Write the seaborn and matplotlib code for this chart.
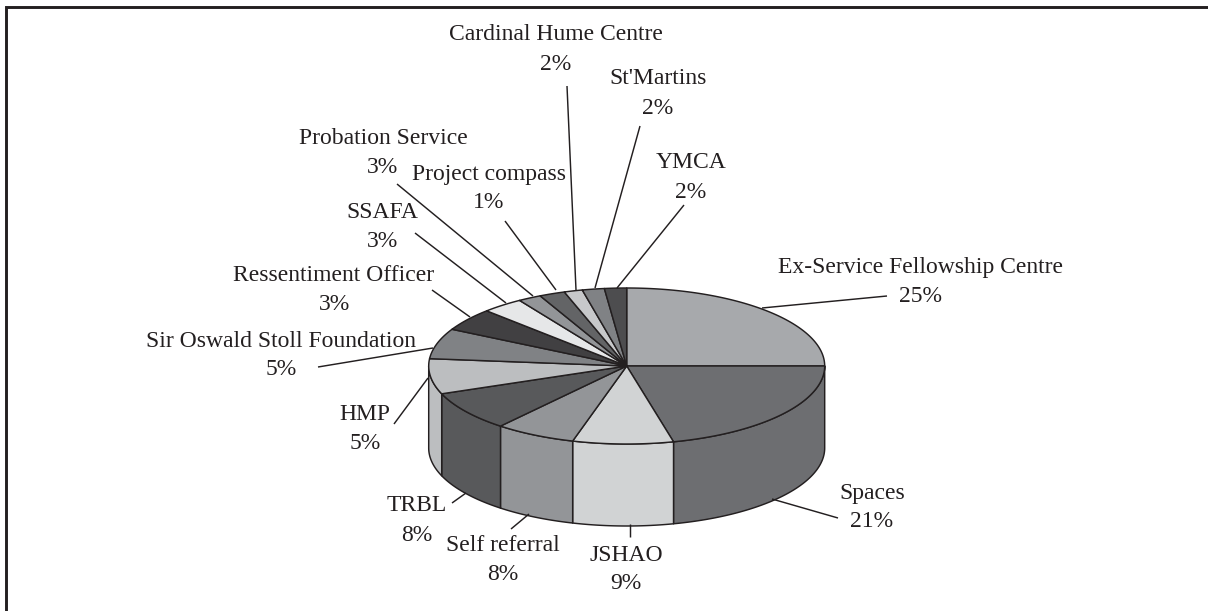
import numpy as np
import matplotlib
matplotlib.use("Agg")
import matplotlib.pyplot as plt
import seaborn as sns

categories = ["Ex-Service Fellowship Centre", "Spaces", "JSHAO", "Self referral", "TRBL", "HMP",
              "Sir Oswald Stoll Foundation", "Ressentiment Officer", "SSAFA", "Probation Service",
              "Project compass", "Cardinal Hume Centre", "St'Martins", "YMCA"]
# slice sizes as drawn in the picture (the printed labels are rounded differently)
drawn_share = [25.0, 21.2, 8.2, 6.6, 8.2, 7.3, 6.3, 4.7, 3.4, 1.9, 2.1, 1.5, 1.8, 1.8]
printed_pct = ["25%", "21%", "9%", "8%", "8%", "5%", "5%", "3%", "3%", "3%", "1%", "2%", "2%", "2%"]
greys = ["#a7a9ac", "#6d6e71", "#d1d3d4", "#939598", "#58595b", "#bcbec0", "#808285",
         "#414042", "#e6e7e8", "#939598", "#636466", "#c7c8ca", "#808285", "#4d4d4f"]

# layout (pixels)
CX, CY, RX, RY, DEPTH = 626.7, 366.0, 198.0, 78.0, 82.0
label_xy = [(921, 265), (872, 491), (626, 553), (503, 543), (417, 503), (365, 412), (281, 339),
            (334, 273), (382, 210), (383, 136), (489, 172), (556, 32), (658, 76), (691, 160)]
line_gap = [29, 28, 28, 29, 30, 29, 28, 29, 29, 29, 28, 30, 30, 30]
leader_from = [(887, 296), (838, 518), (630, 537), (511, 529), (452, 503), (394, 424), (318, 367),
               (432, 290), (415, 233), (397, 184), (505, 221), (567, 86), (640, 126), (684, 205)]
leader_to = [(762, 308), (772, 499), (630, 524), (529, 514), (466, 493), (428, 378), (433, 348),
             (470, 317), (506, 303), (533, 296), (556, 290), (576, 290), (595, 288), (617, 288)]

INK = "#231f20"
TEXT_DY = 2.5
sns.set_theme(style="white")
plt.rcParams["font.family"] = ["Liberation Serif", "DejaVu Serif"]
palette = sns.color_palette(greys)

fig = plt.figure(figsize=(12.08, 6.11), dpi=100, facecolor="white")
ax = fig.add_axes([0, 0, 1, 1])
ax.set_xlim(0, 1208)
ax.set_ylim(611, 0)
ax.axis("off")

def rim(a0, a1, n=80, dy=0.0):
    t = np.radians(np.linspace(a0, a1, n))
    return CX + RX * np.sin(t), CY - RY * np.cos(t) + dy

edges = np.cumsum([0] + drawn_share) / np.sum(drawn_share) * 360

# side wall: only the front half of the rim is visible
for i, col in enumerate(palette):
    a0, a1 = max(edges[i], 90), min(edges[i + 1], 270)
    if a1 <= a0:
        continue
    x, y = rim(a0, a1)
    xb, yb = rim(a1, a0, dy=DEPTH)
    ax.fill(np.r_[x, xb], np.r_[y, yb], facecolor=col, edgecolor=INK, lw=1.05, joinstyle="round", zorder=2)

# top face
for i, col in enumerate(palette):
    x, y = rim(edges[i], edges[i + 1])
    ax.fill(np.r_[CX, x], np.r_[CY, y], facecolor=col, edgecolor=INK, lw=1.05, joinstyle="round", zorder=3)

# labels and leader lines
for i, name in enumerate(categories):
    lx, ly = label_xy[i]
    ax.text(lx, ly + TEXT_DY, name, ha="center", va="center", fontsize=17, color=INK, zorder=5)
    ax.text(lx, ly + line_gap[i] + TEXT_DY, printed_pct[i], ha="center", va="center", fontsize=17, color=INK, zorder=5)
    ax.plot([leader_from[i][0], leader_to[i][0]], [leader_from[i][1], leader_to[i][1]],
            color=INK, lw=1.05, zorder=4, solid_capstyle="butt")

# open frame: left and top rules only
ax.plot([5.5, 5.5, 1208], [611, 6.5, 6.5], color=INK, lw=2.1, solid_joinstyle="miter", zorder=6)

fig.savefig("out.png", dpi=100)
